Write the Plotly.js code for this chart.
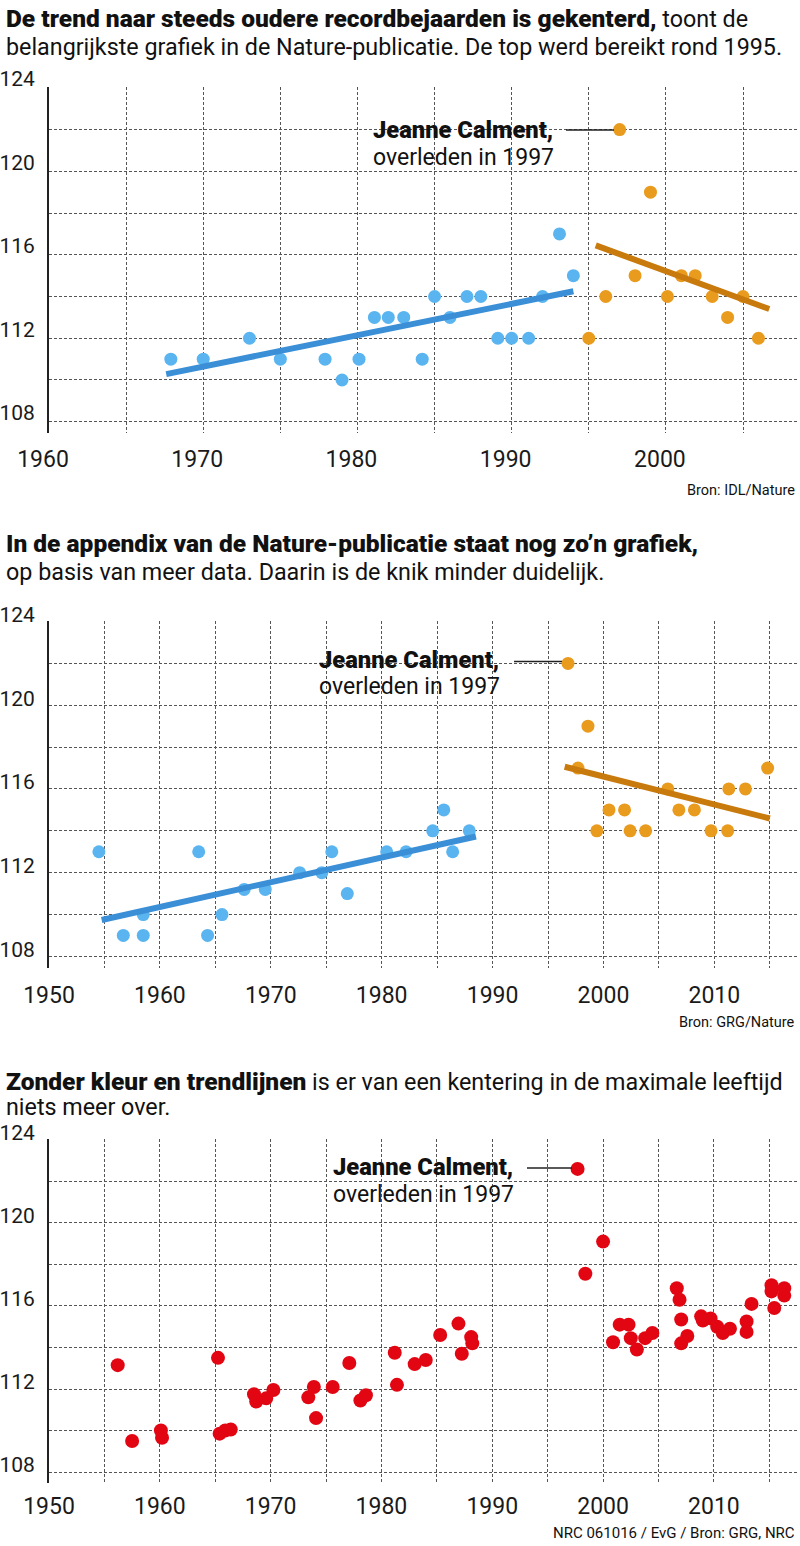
<!DOCTYPE html>
<html><head><meta charset="utf-8">
<script src="https://cdn.plot.ly/plotly-3.0.1.min.js"></script>
<style>html,body{margin:0;padding:0;background:#fff}#chart{width:800px;height:1546px}</style>
</head><body><div id="chart"></div>
<script>
// ---------- Chart 1: IDL / Nature ----------
const c1BlueYears = [1967.9,1970,1973,1975,1977.9,1979,1980.1,1981.1,1982,1983,1984.2,1985,1986,1987.1,1988,1989.1,1990,1991.1,1992,1993.1,1994];
const c1BlueAges  = [111,111,112,111,111,110,111,113,113,113,111,114,113,114,114,112,112,112,114,117,115];
const c1OrangeYears = [1995,1996.1,1997,1998,1999,2000.1,2001,2001.9,2003,2004,2005,2006];
const c1OrangeAges  = [112,114,122,115,119,114,115,115,114,113,114,112];
const c1BlueTrendX = [1967.6, 1994];
const c1BlueTrendY = [110.28, 114.25];
const c1OrangeTrendX = [1995.45, 2006.7];
const c1OrangeTrendY = [116.45, 113.4];

// ---------- Chart 2: GRG / Nature (appendix) ----------
const c2BlueYears = [1954.5,1956.7,1958.5,1958.5,1963.5,1964.3,1965.6,1967.6,1969.5,1972.6,1974.6,1975.5,1976.9,1980.45,1982.2,1984.6,1985.6,1986.4,1987.9];
const c2BlueAges  = [113,109,110,109,113,109,110,111.2,111.2,112,112,113,111,113,113,114,115,113,114];
const c2OrangeYears = [1996.8,1997.7,1998.6,1999.4,2000.5,2001.9,2002.4,2003.8,2005.8,2006.8,2008.2,2009.7,2011.2,2011.3,2012.8,2014.8];
const c2OrangeAges  = [122,117,119,114,115,115,114,114,116,115,115,114,114,116,116,117];
const c2BlueTrendX = [1954.75, 1988.5];
const c2BlueTrendY = [109.74, 113.73];
const c2OrangeTrendX = [1996.5, 2015.0];
const c2OrangeTrendY = [117.06, 114.59];

// ---------- Chart 3: GRG / NRC ----------
const c3Years = [1956.2,1957.5,1960.1,1960.2,1965.25,1965.4,1965.9,1966.4,1968.5,1968.7,1969.6,1970.25,1973.4,1973.9,1974.1,1975.6,1977.1,1978.1,1978.6,1981.2,1981.4,1983.0,1984.0,1985.3,1986.95,1987.25,1988.1,1988.2,1997.7,1998.4,2000.0,2000.9,2001.5,2002.3,2002.5,2003.05,2003.8,2004.45,2006.65,2006.9,2007.05,2007.05,2007.6,2008.85,2009.0,2009.7,2010.3,2010.8,2011.45,2012.95,2012.95,2013.4,2015.2,2015.2,2015.45,2016.35,2016.35];
const c3Ages  = [113.15,109.5,110.0,109.65,113.5,109.85,110.0,110.05,111.75,111.4,111.55,111.95,111.6,112.1,110.6,112.1,113.25,111.45,111.7,113.75,112.2,113.2,113.4,114.6,115.15,113.7,114.5,114.2,122.6,117.55,119.1,114.25,115.1,115.1,114.45,113.9,114.45,114.7,116.85,116.3,115.35,114.2,114.55,115.5,115.3,115.4,115.0,114.7,114.9,115.25,114.75,116.1,117.0,116.7,115.9,116.85,116.5];

// ---------- Texts ----------
const B = s => '<span style="font-weight:900;font-size:24.5px">' + s + '</span>';
const title1a = B('De trend naar steeds oudere recordbejaarden is gekenterd,') + ' toont de';
const title1b = 'belangrijkste grafiek in de Nature-publicatie. De top werd bereikt rond 1995.';
const title2a = B('In de appendix van de Nature-publicatie staat nog zo’n grafiek,');
const title2b = 'op basis van meer data. Daarin is de knik minder duidelijk.';
const title3a = B('Zonder kleur en trendlijnen') + ' is er van een kentering in de maximale leeftijd';
const title3b = 'niets meer over.';
const calmentName = 'Jeanne Calment,';
const calmentNote = 'overleden in 1997';
const source1 = 'Bron: IDL/Nature';
const source2 = 'Bron: GRG/Nature';
const source3 = 'NRC 061016 / EvG / Bron: GRG, NRC';

// ---------- Styling ----------
const W = 800, H = 1546;
const PX = v => v / W;
const PY = v => 1 - v / H;
const FONT = 'Roboto, "Noto Sans", sans-serif';
const BLUE_PT = '#5ab4f0', BLUE_LN = '#3a8fd6';
const ORANGE_PT = '#e99b1e', ORANGE_LN = '#c97a0c';
const RED = '#e20613';
const GRID = {gridcolor: '#555', gridwidth: 1, griddash: '3px,2px'};

function xAxis(range, anchor, shift, standoff) {
  return Object.assign({
    range: range, domain: [PX(49), PX(797)], anchor: anchor,
    tick0: 1950, dtick: 10, showgrid: true, zeroline: false, showline: false,
    ticks: '', ticklabelshift: shift, ticklabelstandoff: standoff,
    tickfont: {family: FONT, size: 23, color: '#1a1a1a'},
    minor: Object.assign({dtick: 5, showgrid: true, ticks: ''}, GRID),
    fixedrange: true
  }, GRID);
}
function yAxis(anchor, top, bottom, shift) {
  return Object.assign({
    range: [107.46, 124.04], domain: [PY(bottom), PY(top)], anchor: anchor,
    tick0: 108, dtick: 4, showgrid: true, zeroline: false,
    showline: true, linecolor: '#222', linewidth: 2,
    ticks: '', ticklabelshift: shift, ticklabelstandoff: 8,
    tickfont: {family: FONT, size: 21, color: '#1a1a1a'},
    minor: Object.assign({dtick: 2, showgrid: true, ticks: ''}, GRID),
    fixedrange: true
  }, GRID);
}

function pts(x, y, color, size, xa, ya) {
  return {type: 'scatter', mode: 'markers', x: x, y: y, xaxis: xa, yaxis: ya,
          marker: {color: color, size: size, line: {width: 0}}, hoverinfo: 'skip'};
}
function trend(x, y, color, xa, ya) {
  return {type: 'scatter', mode: 'lines', x: x, y: y, xaxis: xa, yaxis: ya,
          line: {color: color, width: 6}, hoverinfo: 'skip'};
}

const data = [
  pts(c1BlueYears, c1BlueAges, BLUE_PT, 13, 'x', 'y'),
  pts(c1OrangeYears, c1OrangeAges, ORANGE_PT, 13, 'x', 'y'),
  trend(c1BlueTrendX, c1BlueTrendY, BLUE_LN, 'x', 'y'),
  trend(c1OrangeTrendX, c1OrangeTrendY, ORANGE_LN, 'x', 'y'),
  pts(c2BlueYears, c2BlueAges, BLUE_PT, 13, 'x2', 'y2'),
  pts(c2OrangeYears, c2OrangeAges, ORANGE_PT, 13, 'x2', 'y2'),
  trend(c2BlueTrendX, c2BlueTrendY, BLUE_LN, 'x2', 'y2'),
  trend(c2OrangeTrendX, c2OrangeTrendY, ORANGE_LN, 'x2', 'y2'),
  pts(c3Years, c3Ages, RED, 14, 'x3', 'y3')
];

function txt(text, x, y, size, anchor, weight) {
  const f = {family: FONT, size: size, color: '#111'};
  if (weight) f.weight = weight;
  return {text: text, xref: 'paper', yref: 'paper', x: PX(x), y: PY(y),
    xanchor: anchor, yanchor: 'middle', showarrow: false, align: anchor, font: f};
}
const annotations = [
  txt(title1a, 4, 18, 23.3, 'left'),
  txt(title1b, 4, 47, 23.3, 'left'),
  txt(title2a, 4, 543, 23.3, 'left'),
  txt(title2b, 4, 572, 23.3, 'left'),
  txt(title3a, 4, 1081, 23.3, 'left'),
  txt(title3b, 4, 1107, 23.3, 'left'),
  txt(source1, 797, 490, 14.5, 'right'),
  txt(source2, 797, 1022, 14.5, 'right'),
  txt(source3, 797, 1533, 15, 'right'),
  txt(calmentName, 555, 130, 23.7, 'right', 900),
  txt(calmentNote, 556, 157, 23, 'right'),
  txt(calmentName, 501, 660, 23.7, 'right', 900),
  txt(calmentNote, 502, 687, 23, 'right'),
  txt(calmentName, 515, 1167, 23.7, 'right', 900),
  txt(calmentNote, 516, 1194, 23, 'right')
];

function connector(x0, x1, y) {
  return {type: 'line', xref: 'paper', yref: 'paper', x0: PX(x0), x1: PX(x1), y0: PY(y), y1: PY(y),
          line: {color: '#222', width: 1.5}};
}
const shapes = [connector(566, 614, 130), connector(514, 562, 661.5), connector(527, 572, 1168)];

const layout = {
  width: W, height: H, margin: {l: 0, r: 0, t: 0, b: 0},
  paper_bgcolor: '#fff', plot_bgcolor: '#fff', showlegend: false,
  font: {family: FONT},
  xaxis: xAxis([1960, 2008.5], 'y', -6, 10),
  yaxis: yAxis('x', 87, 433, -9),
  xaxis2: xAxis([1950, 2017.45], 'y2', 0, 11),
  yaxis2: yAxis('x2', 620.7, 967.7, -7),
  xaxis3: xAxis([1950, 2017.5], 'y3', 0, 7),
  yaxis3: yAxis('x3', 1139, 1483.3, -7),
  annotations: annotations,
  shapes: shapes
};

Plotly.newPlot('chart', data, layout, {displayModeBar: false, staticPlot: true});
</script>
</body></html>
